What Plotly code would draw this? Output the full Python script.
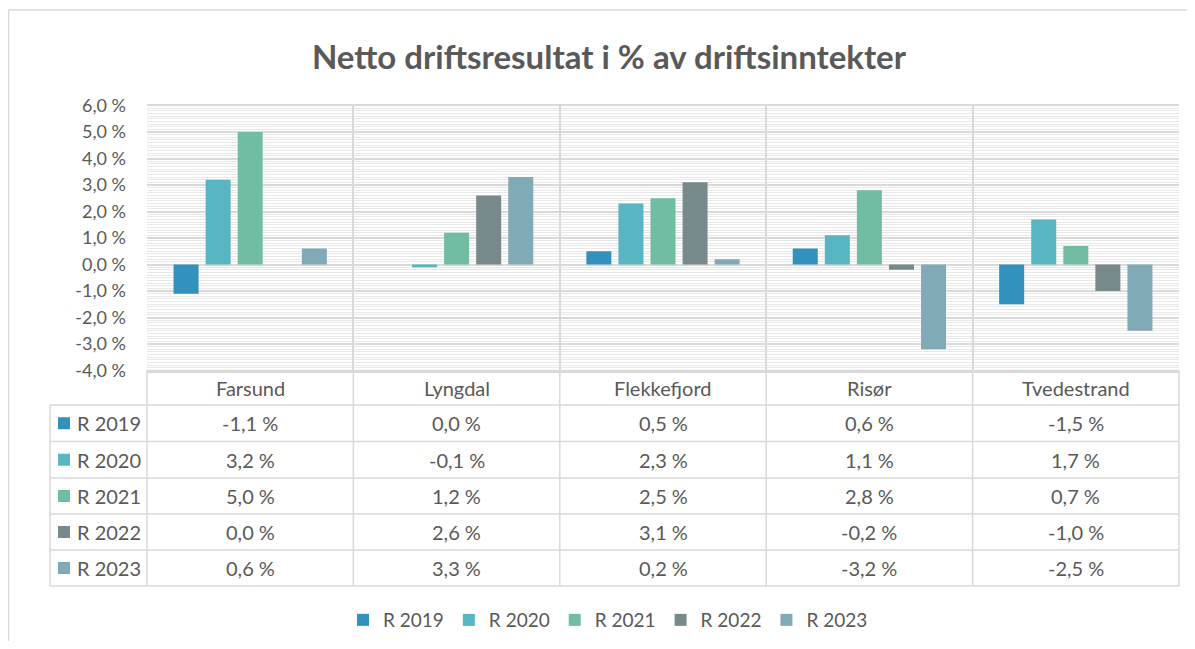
import plotly.graph_objects as go

# ---------------- data ----------------
categories = ["Farsund", "Lyngdal", "Flekkefjord", "Risør", "Tvedestrand"]
series_names = ["R 2019", "R 2020", "R 2021", "R 2022", "R 2023"]
r2019 = [-1.1, 0.0, 0.5, 0.6, -1.5]
r2020 = [3.2, -0.1, 2.3, 1.1, 1.7]
r2021 = [5.0, 1.2, 2.5, 2.8, 0.7]
r2022 = [0.0, 2.6, 3.1, -0.2, -1.0]
r2023 = [0.6, 3.3, 0.2, -3.2, -2.5]
series_values = [r2019, r2020, r2021, r2022, r2023]
y_ticks = [-4, -3, -2, -1, 0, 1, 2, 3, 4, 5, 6]
title_text = "Netto driftsresultat i % av driftsinntekter"

# ---------------- style ----------------
colors = ["#3291bd", "#58b6c2", "#71bda3", "#77898b", "#80aab6"]
OFF = 8                      # default page body margin
W, H = 1195 - 2 * OFF, 649 - 2 * OFF
FONT = "Lato"
TXT = "#595959"
GRID = "#d9d9d9"

def fmt(v):
    return f"{v:.1f} %".replace(".", ",")

def px(x):  # page pixel -> paper x
    return (x - OFF) / W

def py(y):  # page pixel -> paper y
    return 1 - (y - OFF) / H

plot_l, plot_r, plot_t, plot_b = 147, 1179, 105.5, 370.5
row_edges = [370.5, 405, 441.5, 478, 514, 550, 586]
table_left = 50

fig = go.Figure()
for name, vals, c in zip(series_names, series_values, colors):
    fig.add_trace(go.Bar(name=name, x=categories, y=vals, marker=dict(color=c, line=dict(width=0))))

shapes = []
line = dict(color=GRID, width=1.5)
# outer chart border (left & top)
shapes.append(dict(type="line", xref="paper", yref="paper", x0=px(8.5), x1=px(8.5), y0=py(10), y1=0, line=line))
shapes.append(dict(type="line", xref="paper", yref="paper", x0=px(8.5), x1=1, y0=py(10), y1=py(10), line=line))
# table horizontal lines
for i, ye in enumerate(row_edges):
    x0 = plot_l if i == 0 else table_left
    shapes.append(dict(type="line", xref="paper", yref="paper", x0=px(x0), x1=px(plot_r), y0=py(ye), y1=py(ye), line=line))
# table vertical lines
ncat = len(categories)
cw = (plot_r - plot_l) / ncat
for k in range(ncat + 1):
    xv = plot_l + k * cw
    shapes.append(dict(type="line", xref="paper", yref="paper", x0=px(xv), x1=px(xv), y0=py(row_edges[0]), y1=py(row_edges[-1]), line=line))
shapes.append(dict(type="line", xref="paper", yref="paper", x0=px(table_left), x1=px(table_left), y0=py(row_edges[1]), y1=py(row_edges[-1]), line=line))

annotations = []
# category labels row
for cat in categories:
    annotations.append(dict(x=cat, xref="x", y=py((row_edges[0] + row_edges[1]) / 2), yref="paper",
                            text=cat, showarrow=False, font=dict(family=FONT, size=20, color=TXT),
                            xanchor="center", yanchor="middle"))
# data rows
for r, (name, vals, c) in enumerate(zip(series_names, series_values, colors)):
    yc = (row_edges[r + 1] + row_edges[r + 2]) / 2
    shapes.append(dict(type="rect", xref="paper", yref="paper", x0=px(58), x1=px(70), y0=py(yc + 6), y1=py(yc - 6),
                       fillcolor=c, line=dict(width=0)))
    annotations.append(dict(x=px(75), xref="paper", y=py(yc), yref="paper", text=name, showarrow=False,
                            font=dict(family=FONT, size=20, color=TXT), xanchor="left", yanchor="middle"))
    for cat, v in zip(categories, vals):
        annotations.append(dict(x=cat, xref="x", y=py(yc), yref="paper", text=fmt(v), showarrow=False,
                                font=dict(family=FONT, size=20, color=TXT), xanchor="center", yanchor="middle"))

fig.update_layout(
    template="none",
    width=W, height=H,
    margin=dict(l=0, r=0, t=0, b=0, pad=0, autoexpand=False),
    paper_bgcolor="white", plot_bgcolor="white",
    barmode="group", bargap=0.223, bargroupgap=0.22,
    title=dict(text=title_text, x=px(609), xanchor="center", y=py(57), yanchor="middle",
               font=dict(family=FONT, size=33, color=TXT, weight="bold")),
    xaxis=dict(domain=[px(plot_l), px(plot_r)], type="category", tickson="boundaries", automargin=False,
               showgrid=True, gridcolor=GRID, gridwidth=1.5, showticklabels=False, ticks="",
               showline=True, linecolor=GRID, linewidth=1.5, mirror=True, zeroline=False),
    yaxis=dict(domain=[py(plot_b), py(plot_t)], range=[-4, 6], tickvals=y_ticks, automargin=False,
               ticktext=[fmt(t) for t in y_ticks], tickfont=dict(family=FONT, size=18, color=TXT),
               showgrid=True, gridcolor=GRID, gridwidth=1.5, zeroline=False, ticks="",
               ticklabelstandoff=20, showline=False,
               minor=dict(dtick=0.1, showgrid=True, gridcolor="#e8e8e8", gridwidth=1)),
    legend=dict(orientation="h", x=px(608), xanchor="center", y=py(620), yanchor="middle",
                font=dict(family=FONT, size=19, color=TXT), itemwidth=30, traceorder="normal",
                bgcolor="rgba(0,0,0,0)"),
    shapes=shapes, annotations=annotations,
    showlegend=True,
)

fig.write_html("out.html")
